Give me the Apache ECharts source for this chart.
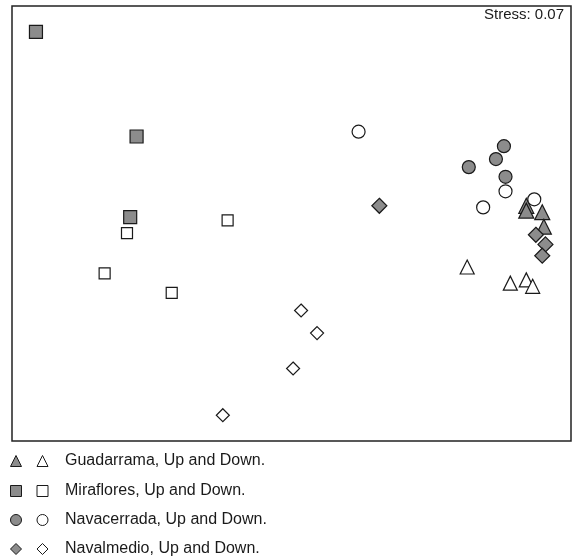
<!DOCTYPE html>
<html>
<head>
<meta charset="utf-8">
<script src="https://cdn.jsdelivr.net/npm/echarts@6/dist/echarts.min.js"></script>
<style>html,body{margin:0;padding:0;background:#fff}#c{width:572px;height:560px}</style>
</head>
<body>
<div id="c"></div>
<script>
// NMDS coordinates [axis1, axis2]
const guadarramaUp   = [[1.02,-0.04],[1.02,-0.07],[1.12,-0.08],[1.13,-0.17]];
const guadarramaDown = [[0.65,-0.42],[0.92,-0.52],[1.02,-0.50],[1.06,-0.54]];
const mirafloresUp   = [[-2.05,1.04],[-1.42,0.39],[-1.46,-0.11]];
const mirafloresDown = [[-1.48,-0.21],[-0.85,-0.13],[-1.62,-0.46],[-1.20,-0.58]];
const navacerradaUp  = [[0.88,0.33],[0.83,0.25],[0.66,0.20],[0.89,0.14]];
const navacerradaDown= [[-0.03,0.42],[0.89,0.05],[1.07,0.00],[0.75,-0.05]];
const navalmedioUp   = [[0.10,-0.04],[1.08,-0.22],[1.14,-0.28],[1.12,-0.35]];
const navalmedioDown = [[-0.39,-0.69],[-0.29,-0.83],[-0.44,-1.05],[-0.88,-1.34]];
const sites = ['Guadarrama','Miraflores','Navacerrada','Navalmedio'];
const legendLabels = ['Guadarrama, Up and Down.','Miraflores, Up and Down.','Navacerrada, Up and Down.','Navalmedio, Up and Down.'];
const stressText = 'Stress: 0.07';

const FILL = '#8c8c8c', EDGE = '#1a1a1a';
const shapes = ['triangle','rect','circle','diamond'];
const sizes = [15,13,13,15];
const openSizes = [14,11,13,13];
const upData = [guadarramaUp, mirafloresUp, navacerradaUp, navalmedioUp];
const downData = [guadarramaDown, mirafloresDown, navacerradaDown, navalmedioDown];

const series = [];
const legends = [];
const rowTops = [452, 482, 511, 540];
sites.forEach((s,i)=>{
  series.push({name:s+' Up', type:'scatter', data:upData[i], symbol:shapes[i], symbolSize:sizes[i],
    itemStyle:{color:FILL, borderColor:EDGE, borderWidth:1.2, opacity:1}, z:2+i, emphasis:{disabled:true}});
  series.push({name:s+' Down', type:'scatter', data:downData[i], symbol:shapes[i], symbolSize:openSizes[i],
    itemStyle:{color:'#ffffff', borderColor:EDGE, borderWidth:1.2, opacity:1}, z:2+i, emphasis:{disabled:true}});
  legends.push({
    orient:'horizontal', left:10, top:rowTops[i], itemWidth:11, itemHeight:11, itemGap:-2,
    selectedMode:false, padding:0,
    data:[{name:s+' Up', icon:shapes[i], itemStyle:{color:FILL, borderColor:EDGE, borderWidth:1}},
          {name:s+' Down', icon:shapes[i], itemStyle:{color:'#fff', borderColor:EDGE, borderWidth:1}}],
    formatter: (n)=> n.endsWith(' Down') ? legendLabels[i] : '',
    textStyle:{fontFamily:'Liberation Sans, Arial, sans-serif', fontSize:16, color:'#1a1a1a', lineHeight:18, padding:[0,0,0,12]}
  });
});

const chart = echarts.init(document.getElementById('c'), null, {renderer:'canvas'});
chart.setOption({
  animation:false,
  backgroundColor:'#fff',
  title:{text:stressText, right:8, top:7, textStyle:{fontFamily:'Liberation Sans, Arial, sans-serif', fontSize:15, fontWeight:'normal', color:'#1a1a1a'}, padding:0},
  grid:{left:12, top:6, right:1, bottom:119, show:true, borderColor:'#222', borderWidth:1.5, containLabel:false},
  xAxis:{type:'value', min:-2.2, max:1.3, show:false},
  yAxis:{type:'value', min:-1.5, max:1.2, show:false},
  legend:legends,
  series:series
});
</script>
</body>
</html>
